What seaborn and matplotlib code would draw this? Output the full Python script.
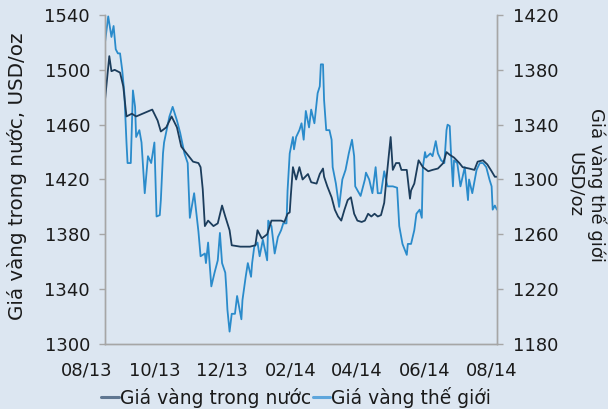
import pandas as pd
import matplotlib
matplotlib.use("Agg")
import matplotlib.pyplot as plt
import matplotlib.dates as mdates
import matplotlib.transforms as mtransforms
from matplotlib.lines import Line2D
import seaborn as sns

# domestic gold price (left axis, USD/oz)
dom_dates = ["2013-08-01", "2013-08-05", "2013-08-07", "2013-08-10", "2013-08-15", "2013-08-18",
             "2013-08-21", "2013-08-26", "2013-08-30", "2013-09-05", "2013-09-14", "2013-09-19",
             "2013-09-22", "2013-09-27", "2013-10-02", "2013-10-07", "2013-10-11", "2013-10-16",
             "2013-10-22", "2013-10-27", "2013-10-29", "2013-10-31", "2013-11-02", "2013-11-05",
             "2013-11-10", "2013-11-14", "2013-11-18", "2013-11-21", "2013-11-25", "2013-11-27",
             "2013-12-05", "2013-12-14", "2013-12-19", "2013-12-21", "2013-12-25", "2013-12-30",
             "2014-01-03", "2014-01-12", "2014-01-15", "2014-01-18", "2014-01-20", "2014-01-21",
             "2014-01-23", "2014-01-26", "2014-01-29", "2014-02-01", "2014-02-06", "2014-02-09",
             "2014-02-14", "2014-02-17", "2014-02-20", "2014-02-21", "2014-02-24", "2014-02-28",
             "2014-03-03", "2014-03-06", "2014-03-09", "2014-03-12", "2014-03-15", "2014-03-18",
             "2014-03-21", "2014-03-24", "2014-03-28", "2014-03-31", "2014-04-03", "2014-04-06",
             "2014-04-09", "2014-04-12", "2014-04-15", "2014-04-18", "2014-04-20", "2014-04-24",
             "2014-04-26", "2014-04-29", "2014-05-02", "2014-05-04", "2014-05-09", "2014-05-12",
             "2014-05-13", "2014-05-16", "2014-05-20", "2014-05-24", "2014-05-29", "2014-06-02",
             "2014-06-07", "2014-06-12", "2014-06-15", "2014-06-18", "2014-06-22", "2014-06-27",
             "2014-06-30", "2014-07-06", "2014-07-11", "2014-07-14", "2014-07-19", "2014-07-23",
             "2014-07-27", "2014-07-30", "2014-08-01"]
dom_values = [1478, 1510, 1499, 1500, 1498, 1488,
              1466, 1468, 1466, 1468, 1471, 1463,
              1455, 1458, 1466, 1458, 1444, 1439,
              1433, 1432, 1429, 1413, 1386, 1390,
              1386, 1388, 1401, 1393, 1383, 1372,
              1371, 1371, 1372, 1383, 1377, 1380,
              1390, 1390, 1389, 1395, 1396, 1408,
              1429, 1420, 1429, 1420, 1424, 1418,
              1417, 1424, 1428, 1422, 1415, 1407,
              1398, 1393, 1390, 1398, 1405, 1407,
              1395, 1390, 1389, 1390, 1395, 1393,
              1395, 1393, 1394, 1403, 1420, 1451,
              1427, 1432, 1432, 1427, 1427, 1406,
              1412, 1417, 1434, 1429, 1426, 1427,
              1428, 1432, 1440, 1438, 1436, 1432,
              1429, 1428, 1427, 1433, 1434, 1431,
              1426, 1422, 1422]

# world gold price (right axis, USD/oz)
world_dates = ["2013-08-01", "2013-08-04", "2013-08-07", "2013-08-09", "2013-08-11", "2013-08-13",
               "2013-08-15", "2013-08-17", "2013-08-19", "2013-08-21", "2013-08-22", "2013-08-25",
               "2013-08-27", "2013-08-29", "2013-08-30", "2013-09-02", "2013-09-04", "2013-09-07",
               "2013-09-10", "2013-09-13", "2013-09-16", "2013-09-18", "2013-09-21", "2013-09-22",
               "2013-09-24", "2013-09-25", "2013-09-30", "2013-10-03", "2013-10-07", "2013-10-10",
               "2013-10-14", "2013-10-17", "2013-10-19", "2013-10-23", "2013-10-27", "2013-10-29",
               "2013-11-02", "2013-11-03", "2013-11-05", "2013-11-08", "2013-11-11", "2013-11-14",
               "2013-11-16", "2013-11-18", "2013-11-21", "2013-11-22", "2013-11-23", "2013-11-25",
               "2013-11-27", "2013-11-30", "2013-12-02", "2013-12-06", "2013-12-07", "2013-12-10",
               "2013-12-12", "2013-12-15", "2013-12-16", "2013-12-18", "2013-12-21", "2013-12-23",
               "2013-12-26", "2013-12-30", "2013-12-31", "2014-01-03", "2014-01-06", "2014-01-09",
               "2014-01-12", "2014-01-14", "2014-01-17", "2014-01-18", "2014-01-20", "2014-01-23",
               "2014-01-24", "2014-01-26", "2014-01-29", "2014-01-31", "2014-02-02", "2014-02-04",
               "2014-02-07", "2014-02-09", "2014-02-12", "2014-02-15", "2014-02-17", "2014-02-18",
               "2014-02-20", "2014-02-21", "2014-02-23", "2014-02-26", "2014-02-28", "2014-03-01",
               "2014-03-04", "2014-03-07", "2014-03-10", "2014-03-13", "2014-03-16", "2014-03-19",
               "2014-03-21", "2014-03-22", "2014-03-27", "2014-03-31", "2014-04-01", "2014-04-04",
               "2014-04-07", "2014-04-10", "2014-04-12", "2014-04-15", "2014-04-18", "2014-04-21",
               "2014-04-26", "2014-04-30", "2014-05-02", "2014-05-05", "2014-05-09", "2014-05-10",
               "2014-05-13", "2014-05-16", "2014-05-18", "2014-05-21", "2014-05-23", "2014-05-24",
               "2014-05-26", "2014-05-27", "2014-05-31", "2014-06-02", "2014-06-05", "2014-06-07",
               "2014-06-10", "2014-06-13", "2014-06-15", "2014-06-16", "2014-06-18", "2014-06-19",
               "2014-06-21", "2014-06-22", "2014-06-25", "2014-06-28", "2014-07-02", "2014-07-05",
               "2014-07-06", "2014-07-09", "2014-07-13", "2014-07-16", "2014-07-19", "2014-07-22",
               "2014-07-25", "2014-07-27", "2014-07-28", "2014-07-30", "2014-08-01"]
world_values = [1400, 1419, 1404, 1412, 1395, 1392,
                1392, 1380, 1363, 1327, 1312, 1312,
                1365, 1353, 1331, 1336, 1327, 1290,
                1317, 1312, 1327, 1273, 1274, 1285,
                1319, 1327, 1346, 1353, 1343, 1334,
                1319, 1312, 1272, 1290, 1262, 1244,
                1246, 1239, 1254, 1222, 1232, 1241,
                1261, 1239, 1232, 1220, 1205, 1189,
                1202, 1202, 1215, 1198, 1212, 1229,
                1239, 1229, 1239, 1251, 1254, 1244,
                1256, 1241, 1270, 1266, 1246, 1258,
                1263, 1268, 1268, 1292, 1319, 1331,
                1322, 1331, 1336, 1341, 1329, 1350,
                1338, 1351, 1341, 1363, 1368, 1384,
                1384, 1358, 1336, 1336, 1329, 1309,
                1297, 1280, 1300, 1307, 1319, 1329,
                1317, 1295, 1288, 1300, 1305, 1300,
                1290, 1309, 1290, 1290, 1306, 1295,
                1295, 1294, 1266, 1253, 1245, 1253,
                1253, 1263, 1275, 1278, 1272, 1309,
                1320, 1316, 1319, 1317, 1328, 1319,
                1314, 1312, 1336, 1340, 1339, 1322,
                1295, 1314, 1312, 1295, 1309, 1285,
                1300, 1290, 1307, 1312, 1312, 1309,
                1300, 1295, 1278, 1281, 1278]

left_ticks = [1300, 1340, 1380, 1420, 1460, 1500, 1540]
right_ticks = [1180, 1220, 1260, 1300, 1340, 1380, 1420]
month_ticks = ["2013-08-01", "2013-10-01", "2013-12-01", "2014-02-01",
               "2014-04-01", "2014-06-01", "2014-08-01"]

dom = pd.DataFrame({"date": pd.to_datetime(dom_dates), "price": dom_values})
world = pd.DataFrame({"date": pd.to_datetime(world_dates), "price": world_values})

bg = "#dce6f1"
dark = "#1c3d5c"
light = "#2a8bcb"
spine_c = "#a6a6a6"
txt = "#1a1a1a"

sns.set_style("white")
plt.rcParams["font.family"] = ["DejaVu Sans"]

fig = plt.figure(figsize=(6.08, 4.09), dpi=100, facecolor=bg)
ax = fig.add_axes([0.1727, 0.159, 0.6447, 0.8043])
ax2 = ax.twinx()

sns.lineplot(data=dom, x="date", y="price", ax=ax, color=dark, linewidth=1.3, legend=False)
sns.lineplot(data=world, x="date", y="price", ax=ax2, color=light, linewidth=1.3, legend=False)
# domestic line drawn on top of the world line
ax.set_zorder(ax2.get_zorder() + 1)
ax.patch.set_visible(False)
ax2.set_facecolor(bg)

ax.set_xlim(pd.Timestamp("2013-08-01"), pd.Timestamp("2014-08-01"))
ax.set_ylim(1300, 1540)
ax2.set_ylim(1180, 1420)
ax.set_yticks(left_ticks)
ax2.set_yticks(right_ticks)
ax.set_xticks(pd.to_datetime(month_ticks))
ax.xaxis.set_major_formatter(mdates.DateFormatter("%m/%y"))

for a in (ax, ax2):
    a.spines["top"].set_visible(False)
    for side in ("left", "right", "bottom"):
        a.spines[side].set_color(spine_c)
        a.spines[side].set_linewidth(1.0)
    a.tick_params(axis="both", direction="out", length=4.3, width=1, color=spine_c,
                  labelsize=13, labelcolor=txt)
    a.set_xlabel("")
    a.set_ylabel("")
ax.tick_params(axis="x", pad=8)
ax.tick_params(axis="y", pad=6.5)
ax2.tick_params(axis="y", pad=7.5)

# the date labels sit a little left of their ticks, as in the source chart
fig.canvas.draw()
for i, lab in enumerate(ax.get_xticklabels()):
    shift = mtransforms.ScaledTranslation((-18 + 2.2 * i) / 100, 0, fig.dpi_scale_trans)
    lab.set_transform(lab.get_transform() + shift)

fig.text(17 / 608, 1 - 176.5 / 409, "Giá vàng trong nước, USD/oz", rotation=90,
         fontsize=14.3, color=txt, ha="center", va="center")
fig.text(586.5 / 608, 1 - 185 / 409, "Giá vàng thế giới\nUSD/oz", rotation=270, fontsize=13,
         color=txt, ha="center", va="center", multialignment="center", linespacing=1.2)

handles = [Line2D([], [], color="#5f7691", linewidth=2.2),
           Line2D([], [], color="#5ea6dc", linewidth=2.2)]
fig.legend(handles, ["Giá vàng trong nước", "Giá vàng thế giới"], loc="center",
           bbox_to_anchor=(0.487, 0.029), ncol=2, frameon=False, fontsize=13.5,
           handlelength=0.95, handletextpad=0.05, columnspacing=0.1, labelcolor=txt)

fig.savefig("out.png", dpi=100, facecolor=bg)
